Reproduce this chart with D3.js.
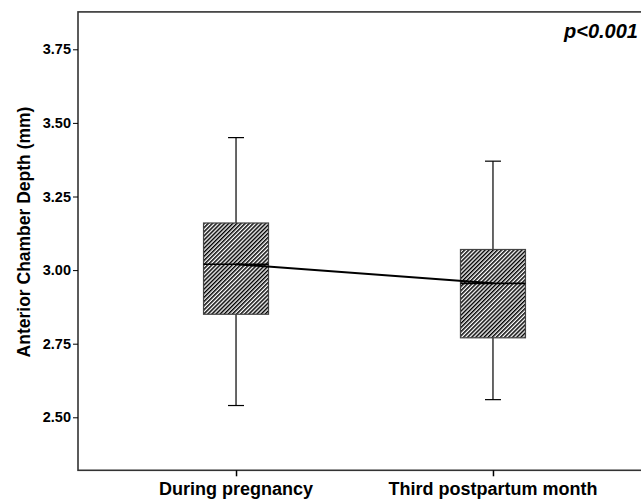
<!DOCTYPE html>
<head>
    <script src="https://d3js.org/d3.v7.min.js"></script>
    <style>
        body { margin: 0; background: #fff; }
        .lbl { font-family: "Liberation Sans", Arial, sans-serif; font-weight: bold; fill: #000; }
    </style>
</head>
<body>
    <script>
        // groups and their box statistics (mm)
        var groups = ["During pregnancy", "Third postpartum month"];
        var whiskerLow = [2.54, 2.56];
        var q1 = [2.85, 2.77];
        var median = [3.02, 2.955];
        var q3 = [3.16, 3.07];
        var whiskerHigh = [3.45, 3.37];
        var yTicks = [2.50, 2.75, 3.00, 3.25, 3.50, 3.75];
        var yExtent = [2.32, 3.877];

        var W = 641, H = 499;
        var svg = d3.select("body").append("svg")
            .attr("width", W)
            .attr("height", H);

        // y scale pinned on the tick positions
        var y = d3.scaleLinear().domain([2.5, 3.75]).range([417.3, 49.3]);
        var x = d3.scalePoint().domain(groups).range([78, 651]).padding(0.615);

        var plotTop = y(yExtent[1]), plotBottom = y(yExtent[0]);
        var plotLeft = 78;

        // hatch pattern for the boxes
        var defs = svg.append("defs");
        var pat = defs.append("pattern")
            .attr("id", "hatch")
            .attr("patternUnits", "userSpaceOnUse")
            .attr("width", 2.9)
            .attr("height", 2.9)
            .attr("patternTransform", "rotate(45)");
        pat.append("rect").attr("width", 2.9).attr("height", 2.9).attr("fill", "#fff");
        pat.append("line")
            .attr("x1", 0.75).attr("y1", 0).attr("x2", 0.75).attr("y2", 2.9)
            .attr("stroke", "#000").attr("stroke-width", 1.5);

        // plot frame
        svg.append("rect")
            .attr("x", plotLeft).attr("y", plotTop)
            .attr("width", 651 - plotLeft).attr("height", plotBottom - plotTop)
            .attr("fill", "none").attr("stroke", "#333").attr("stroke-width", 1.6);

        // y axis
        var yAxis = d3.axisLeft(y).tickValues(yTicks).tickFormat(d3.format(".2f")).tickSize(5).tickPadding(2);
        var gy = svg.append("g").attr("transform", "translate(" + plotLeft + ",0)").call(yAxis);
        gy.select(".domain").remove();
        gy.selectAll(".tick line").attr("stroke", "#000");
        gy.selectAll(".tick text")
            .attr("font-family", "'Liberation Sans', Arial, sans-serif")
            .attr("font-weight", "bold")
            .attr("font-size", 14.5)
            .attr("fill", "#000");

        // x axis
        var xAxis = d3.axisBottom(x).tickSize(6).tickFormat("");
        var gx = svg.append("g").attr("transform", "translate(0," + plotBottom + ")").call(xAxis);
        gx.select(".domain").remove();
        gx.selectAll(".tick line").attr("stroke", "#000").attr("stroke-width", 1.5);

        groups.forEach(function (g) {
            svg.append("text").attr("class", "lbl")
                .attr("x", x(g)).attr("y", 495)
                .attr("text-anchor", "middle")
                .style("font-size", "18px")
                .text(g);
        });

        // axis title
        svg.append("text").attr("class", "lbl")
            .attr("transform", "translate(30,232) rotate(-90)")
            .attr("text-anchor", "middle")
            .style("font-size", "17.5px")
            .text("Anterior Chamber Depth (mm)");

        // p value
        svg.append("text").attr("class", "lbl")
            .attr("x", 638).attr("y", 38)
            .attr("text-anchor", "end")
            .style("font-size", "20px")
            .style("font-style", "italic")
            .text("p<0.001");

        // boxes
        var boxW = 65, capW = 16;
        var data = groups.map(function (g, i) {
            return { g: g, lo: whiskerLow[i], q1: q1[i], med: median[i], q3: q3[i], hi: whiskerHigh[i] };
        });

        var box = svg.selectAll("g.box").data(data).enter().append("g").attr("class", "box");

        box.append("line")
            .attr("x1", function (d) { return x(d.g); })
            .attr("x2", function (d) { return x(d.g); })
            .attr("y1", function (d) { return y(d.hi); })
            .attr("y2", function (d) { return y(d.lo); })
            .attr("stroke", "#000").attr("stroke-width", 1.2);

        ["hi", "lo"].forEach(function (k) {
            box.append("line")
                .attr("x1", function (d) { return x(d.g) - capW / 2; })
                .attr("x2", function (d) { return x(d.g) + capW / 2; })
                .attr("y1", function (d) { return y(d[k]); })
                .attr("y2", function (d) { return y(d[k]); })
                .attr("stroke", "#000").attr("stroke-width", 1.2);
        });

        box.append("rect")
            .attr("x", function (d) { return x(d.g) - boxW / 2; })
            .attr("y", function (d) { return y(d.q3); })
            .attr("width", boxW)
            .attr("height", function (d) { return y(d.q1) - y(d.q3); })
            .attr("fill", "url(#hatch)")
            .attr("stroke", "#444").attr("stroke-width", 1.2);

        box.append("line")
            .attr("x1", function (d) { return x(d.g) - boxW / 2; })
            .attr("x2", function (d) { return x(d.g) + boxW / 2; })
            .attr("y1", function (d) { return y(d.med); })
            .attr("y2", function (d) { return y(d.med); })
            .attr("stroke", "#000").attr("stroke-width", 1.6);

        // line joining the medians
        svg.append("path")
            .datum(data)
            .attr("fill", "none")
            .attr("stroke", "#000")
            .attr("stroke-width", 2)
            .attr("d", d3.line()
                .x(function (d) { return x(d.g); })
                .y(function (d) { return y(d.med); }));
    </script>
</body>
